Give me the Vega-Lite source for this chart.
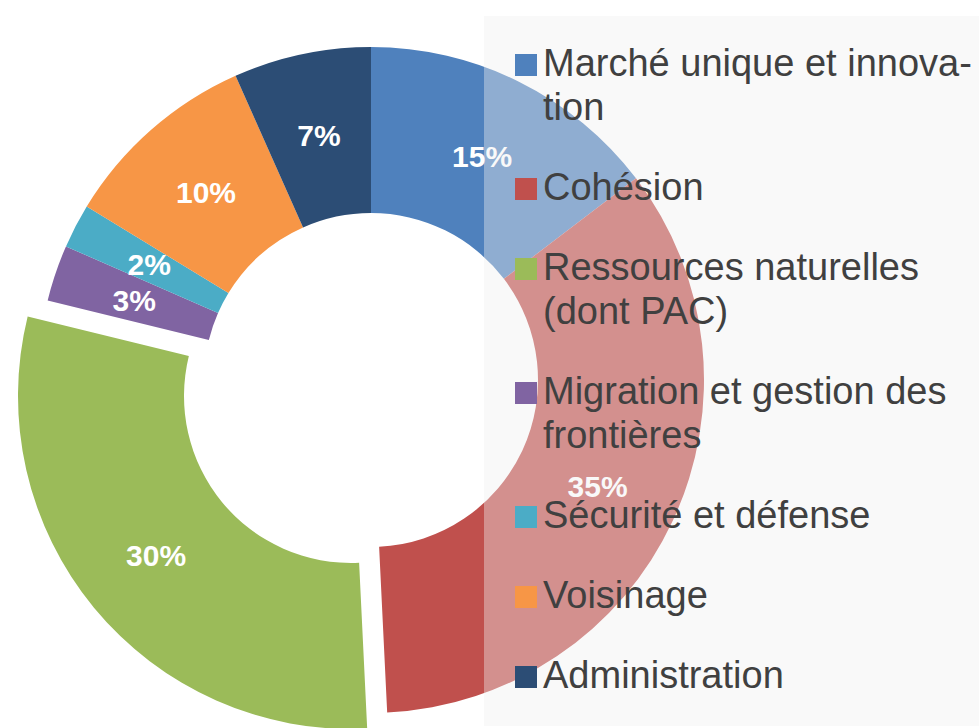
{
  "$schema": "https://vega.github.io/schema/vega-lite/v6.json",
  "width": 742,
  "height": 696,
  "autosize": {"type": "none"},
  "padding": {"left": 0, "top": 32, "right": 237, "bottom": 0},
  "background": "white",
  "config": {
    "view": {"stroke": null},
    "style": {"guide-label": {"lineHeight": 44}}
  },
  "data": {
    "values": [
      {"poste": "Marché unique et innovation", "ordre": 1, "montant": 187.4, "etiquette": "15%"},
      {"poste": "Cohésion", "ordre": 2, "montant": 442.4, "etiquette": "35%"},
      {"poste": "Ressources naturelles (dont PAC)", "ordre": 3, "montant": 378.9, "etiquette": "30%"},
      {"poste": "Migration et gestion des frontières", "ordre": 4, "montant": 34.9, "etiquette": "3%"},
      {"poste": "Sécurité et défense", "ordre": 5, "montant": 27.5, "etiquette": "2%"},
      {"poste": "Voisinage", "ordre": 6, "montant": 123.0, "etiquette": "10%"},
      {"poste": "Administration", "ordre": 7, "montant": 85.3, "etiquette": "7%"}
    ]
  },
  "encoding": {
    "theta": {"field": "montant", "type": "quantitative", "stack": true},
    "order": {"field": "ordre", "type": "quantitative"}
  },
  "layer": [
    {
      "mark": {"type": "arc", "radius": 333, "radius2": 167},
      "encoding": {
        "color": {
          "field": "poste",
          "type": "nominal",
          "scale": {
            "domain": ["Marché unique et innovation", "Cohésion", "Ressources naturelles (dont PAC)", "Migration et gestion des frontières", "Sécurité et défense", "Voisinage", "Administration"],
            "range": ["#4f81bd", "#c0504d", "#9bbb59", "#8064a2", "#4bacc6", "#f79646", "#2c4d75"]
          },
          "legend": {
            "title": null,
            "orient": "none",
            "legendX": 484,
            "legendY": -16,
            "direction": "vertical",
            "fillColor": "rgba(240,240,240,0.4)",
            "padding": 30,
            "symbolType": "square",
            "symbolSize": 484,
            "symbolStrokeWidth": 0,
            "symbolOpacity": 1,
            "symbolOffset": -7,
            "labelFont": "Liberation Sans",
            "labelFontSize": 38,
            "labelColor": "#404040",
            "labelLimit": 1000,
            "labelOffset": -2,
            "rowPadding": 42,
            "labelExpr": "datum.label === 'Marché unique et innovation' ? ['Marché unique et innova-', 'tion'] : datum.label === 'Ressources naturelles (dont PAC)' ? ['Ressources naturelles', '(dont PAC)'] : datum.label === 'Migration et gestion des frontières' ? ['Migration et gestion des', 'frontières'] : datum.label"
          }
        },
        "opacity": {"condition": {"test": "datum.ordre === 3", "value": 0}, "value": 1}
      }
    },
    {
      "mark": {"type": "arc", "radius": 333, "radius2": 167, "xOffset": -20, "yOffset": 16},
      "encoding": {
        "color": {"field": "poste", "type": "nominal"},
        "opacity": {"condition": {"test": "datum.ordre === 3", "value": 1}, "value": 0}
      }
    },
    {
      "mark": {"type": "text", "radius": 250, "font": "Liberation Sans", "fontSize": 30, "fontWeight": "bold", "fill": "white", "yOffset": 2},
      "encoding": {
        "text": {"field": "etiquette", "type": "nominal"},
        "opacity": {"condition": {"test": "datum.ordre === 3", "value": 0}, "value": 1}
      }
    },
    {
      "mark": {"type": "text", "radius": 250, "font": "Liberation Sans", "fontSize": 30, "fontWeight": "bold", "fill": "white", "xOffset": -22, "yOffset": 18},
      "encoding": {
        "text": {"field": "etiquette", "type": "nominal"},
        "opacity": {"condition": {"test": "datum.ordre === 3", "value": 1}, "value": 0}
      }
    }
  ]
}
